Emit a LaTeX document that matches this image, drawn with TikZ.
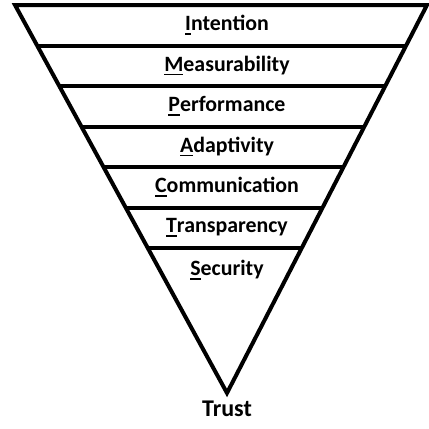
\documentclass[tikz,border=0pt]{standalone}
\usepackage{fontspec}
\setmainfont{Carlito}
\usetikzlibrary{calc}

% first letter of a layer name, underlined
\newcommand{\keyletter}[1]{\setbox0\hbox{#1}\rlap{\rule[-3pt]{\wd0}{1.2pt}}\box0}

\begin{document}
\begin{tikzpicture}[x=0.75pt,y=-0.75pt,line width=3pt,
	layer/.style={font=\fontsize{16.4}{19}\selectfont\bfseries}]
	\useasboundingbox (0,0) rectangle (429,429);
	\coordinate (tl) at (15,5);
	\coordinate (tr) at (427,5);
	\coordinate (apex) at (227,393);
	\draw (tl) -- (tr) -- (apex) -- cycle;
	\foreach \i in {1,...,6}
		\draw ($(tl)!\i*0.1044!(apex)$) -- ($(tr)!\i*0.1044!(apex)$);
	\node[layer] (intention) at (227,25) {\keyletter{I}ntention};
	\node[layer] (measure) at (227,65.5) {\keyletter{M}easurability};
	\node[layer] (perf) at (227,106) {\keyletter{P}erformance};
	\node[layer] (adapt) at (227,146.5) {\keyletter{A}daptivity};
	\node[layer] (comm) at (227,187) {\keyletter{C}ommunication};
	\node[layer] (transp) at (227,227.5) {\keyletter{T}ransparency};
	\node[layer] (security) at (227,270) {\keyletter{S}ecurity};
	\node[layer,font=\fontsize{18}{21}\selectfont\bfseries] (trust) at (227,409) {Trust};
\end{tikzpicture}
\end{document}
